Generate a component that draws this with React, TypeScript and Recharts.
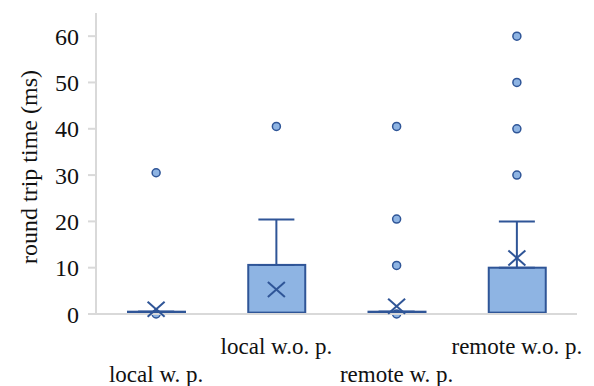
import { ComposedChart, Bar, Scatter, ErrorBar, XAxis, YAxis, Label } from "recharts";

const categories = ["local w. p.", "local w.o. p.", "remote w. p.", "remote w.o. p."];
const q1 = [0.25, 0.3, 0.25, 0.3];
const q3 = [0.5, 10.6, 0.5, 10.0];
const whiskerHigh = [0.5, 20.4, 0.5, 20.0];
const means = [1.0, 5.3, 1.7, 12.1];
const outliers = [
  [30.5, 0],
  [40.5],
  [40.5, 20.5, 10.5, 0],
  [60, 50, 40, 30],
];
const yTicks = [0, 10, 20, 30, 40, 50, 60];

const FONT = '"Liberation Serif", "Times New Roman", serif';
const BOX_FILL = "#8eb4e3";
const BOX_STROKE = "#2f5597";
const AXIS = "#d9d9d9";

const rows = categories.map((name, i) => ({
  name,
  base: q1[i],
  span: q3[i] - q1[i],
  q3: q3[i],
  whisker: [0, whiskerHigh[i] - q3[i]],
  mean: means[i],
}));

const outlierRows = categories.flatMap((name, i) => outliers[i].map((value) => ({ name, value })));

function BoxShape(props: any) {
  const { x, y, width, height } = props;
  return <rect x={x} y={y} width={width} height={height} fill={BOX_FILL} stroke={BOX_STROKE} strokeWidth={2} />;
}

function MeanMark(props: any) {
  const { cx, cy } = props;
  if (cx == null || cy == null) return null;
  return (
    <g stroke={BOX_STROKE} strokeWidth={2}>
      <line x1={cx - 8.5} y1={cy - 7.5} x2={cx + 8.5} y2={cy + 7.5} />
      <line x1={cx - 8.5} y1={cy + 7.5} x2={cx + 8.5} y2={cy - 7.5} />
    </g>
  );
}

function OutlierDot(props: any) {
  const { cx, cy } = props;
  if (cx == null || cy == null) return null;
  return <circle cx={cx} cy={cy} r={4} fill={BOX_FILL} stroke={BOX_STROKE} strokeWidth={1.5} />;
}

function StaggerTick(props: any) {
  const { x, y, payload, index } = props;
  const dy = index % 2 === 0 ? 68 : 40;
  return (
    <text x={x} y={y + dy} textAnchor="middle" fontSize={23} fontFamily={FONT} fill="#111">
      {payload.value}
    </text>
  );
}

export default function App() {
  return (
    <div style={{ position: "fixed", left: 0, top: 0, background: "#fff" }}>
      <ComposedChart width={594} height={386} data={rows} margin={{ top: 13, right: 17, bottom: 42, left: 0 }}>
        <XAxis
          dataKey="name"
          type="category"
          allowDuplicatedCategory={false}
          height={30}
          axisLine={{ stroke: AXIS, strokeWidth: 2 }}
          tickLine={false}
          tickSize={0}
          tickMargin={0}
          interval={0}
          tick={<StaggerTick />}
        />
        <YAxis
          width={96}
          domain={[0, 65]}
          ticks={yTicks}
          axisLine={{ stroke: AXIS, strokeWidth: 2 }}
          tickLine={{ stroke: AXIS, strokeWidth: 2 }}
          tickSize={8}
          tickMargin={9}
          tick={{ fontSize: 24, fontFamily: FONT, fill: "#111" }}
        >
          <Label
            content={() => (
              <text
                x={37}
                y={167}
                transform="rotate(-90 37 167)"
                textAnchor="middle"
                fontSize={24}
                fontFamily={FONT}
                fill="#111"
              >
                round trip time (ms)
              </text>
            )}
          />
        </YAxis>
        <Scatter data={outlierRows} dataKey="value" shape={<OutlierDot />} zIndex={100} isAnimationActive={false} />
        <Bar dataKey="base" stackId="box" fill="transparent" barSize={57} isAnimationActive={false} />
        <Bar dataKey="span" stackId="box" barSize={57} shape={<BoxShape />} isAnimationActive={false} />
        <Scatter dataKey="q3" shape={() => <g />} isAnimationActive={false}>
          <ErrorBar dataKey="whisker" direction="y" width={18} stroke={BOX_STROKE} strokeWidth={2} isAnimationActive={false} />
        </Scatter>
        <Scatter dataKey="mean" shape={<MeanMark />} isAnimationActive={false} />
      </ComposedChart>
    </div>
  );
}
